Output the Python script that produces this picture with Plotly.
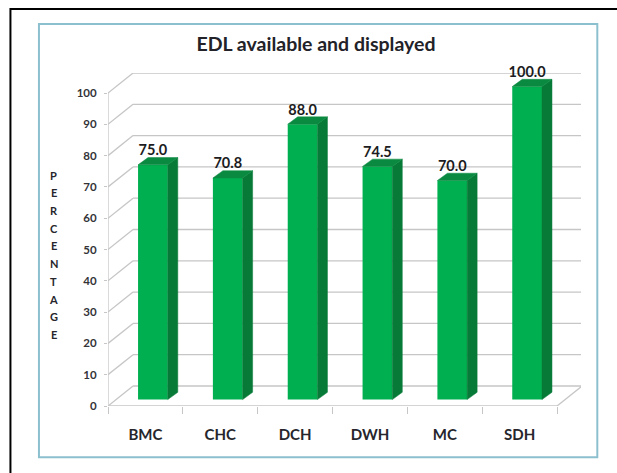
import plotly.graph_objects as go

categories = ["BMC", "CHC", "DCH", "DWH", "MC", "SDH"]
values = [75.0, 70.8, 88.0, 74.5, 70.0, 100.0]
y_ticks = [0, 10, 20, 30, 40, 50, 60, 70, 80, 90, 100]
title_text = "EDL available and displayed"
y_title = "PERCENTAGE"

W, H = 617, 473
L, R, T, B = 108.0, 580.7, 73.0, 405.7
X_UNITS = 6.32
Y_UNITS = 106.4
px_x = (R - L) / X_UNITS
px_y = (B - T) / Y_UNITS

FRONT, SIDE, TOP = "#00B050", "#077A38", "#0A8A40"
GRID = "#c6c6c6"
INK = "#26262c"
FONT = "Lato"

wall_dx, wall_dy = 25 / px_x, 20 / px_y
bar_dx, bar_dy = 10 / px_x, 7.3 / px_y
bar_w = 29.7 / px_x
bar_base = 6.4 / px_y
bar_shift = 0.1

def pap_x(p):
    return (p - L) / (R - L)

def pap_y(p):
    return (B - p) / (B - T)

centers = [i + 0.5 + bar_shift for i in range(len(categories))]

fig = go.Figure()

# front faces
fig.add_trace(go.Bar(x=centers, y=values, base=bar_base, width=bar_w,
                     marker=dict(color=FRONT, line=dict(width=0)), showlegend=False))

# side and top faces
for c, v in zip(centers, values):
    xr = c + bar_w / 2
    xl = c - bar_w / 2
    top = bar_base + v
    fig.add_trace(go.Scatter(
        x=[xr, xr + bar_dx, xr + bar_dx, xr, xr],
        y=[bar_base, bar_base + bar_dy, top + bar_dy, top, bar_base],
        mode="lines", fill="toself", fillcolor=SIDE, line=dict(width=0.5, color=SIDE), showlegend=False))
    fig.add_trace(go.Scatter(
        x=[xl, xr, xr + bar_dx, xl + bar_dx, xl],
        y=[top, top, top + bar_dy, top + bar_dy, top],
        mode="lines", fill="toself", fillcolor=TOP, line=dict(width=0.5, color=TOP), showlegend=False))

# value labels
fig.add_trace(go.Scatter(
    x=centers, y=[bar_base + v + 13.2 / px_y for v in values],
    text=[f"{v:.1f}" for v in values], mode="text", textposition="middle center",
    textfont=dict(family=FONT, size=14.5, color="#1c1c22", weight="bold"),
    cliponaxis=False, showlegend=False))

shapes = []
n = len(categories)
line = dict(color=GRID, width=1.3)
for t in y_ticks:
    shapes.append(dict(type="line", xref="x", yref="y", layer="below", x0=0, y0=t,
                       x1=wall_dx, y1=t + wall_dy, line=line))
    shapes.append(dict(type="line", xref="x", yref="y", layer="below", x0=wall_dx, y0=t + wall_dy,
                       x1=n + wall_dx, y1=t + wall_dy, line=line))
# floor and axes
shapes.append(dict(type="line", xref="x", yref="y", layer="below", x0=0, y0=0, x1=n, y1=0, line=line))
shapes.append(dict(type="line", xref="x", yref="y", layer="below", x0=n, y0=0,
                   x1=n + wall_dx, y1=wall_dy, line=line))
shapes.append(dict(type="line", xref="x", yref="y", layer="below", x0=0, y0=0, x1=0, y1=y_ticks[-1], line=line))

# teal chart border
shapes.append(dict(type="rect", xref="paper", yref="paper", layer="below",
                   x0=pap_x(39), x1=pap_x(597), y0=pap_y(457), y1=pap_y(24),
                   line=dict(color="#8dc0cf", width=2)))
# black page frame, top and left only
shapes.append(dict(type="line", xref="paper", yref="paper", x0=pap_x(10.5), x1=pap_x(617),
                   y0=pap_y(9), y1=pap_y(9), line=dict(color="#000000", width=2)))
shapes.append(dict(type="line", xref="paper", yref="paper", x0=pap_x(10.5), x1=pap_x(10.5),
                   y0=pap_y(8), y1=pap_y(473), line=dict(color="#000000", width=2)))

annotations = [dict(xref="paper", yref="paper", x=pap_x(54), y=pap_y(175 + 17.7 * i),
                    text=ch, showarrow=False, xanchor="center", yanchor="middle",
                    font=dict(family=FONT, size=11, color=INK, weight="bold"))
               for i, ch in enumerate(y_title)]

fig.update_layout(
    width=W, height=H, autosize=False,
    margin=dict(l=L, r=W - R, t=T, b=H - B, pad=0),
    paper_bgcolor="white", plot_bgcolor="rgba(0,0,0,0)",
    shapes=shapes, annotations=annotations, showlegend=False, hovermode=False,
    title=dict(text=title_text, x=316 / W, xanchor="center", y=1 - 44 / H, yanchor="middle",
               font=dict(family=FONT, size=19.5, color="#222228", weight="bold")),
    xaxis=dict(range=[0, X_UNITS], showgrid=False, zeroline=False, showline=False,
               tickmode="array", tickvals=[i + 0.5 for i in range(n)], ticktext=categories,
               ticks="outside", ticklen=15, tickcolor="rgba(0,0,0,0)", tickwidth=1,
               tickfont=dict(family=FONT, size=15, color=INK, weight="bold"),
               minor=dict(tickmode="array", tickvals=list(range(n + 1)), ticks="outside",
                          ticklen=7, tickcolor=GRID, tickwidth=1.2, showgrid=False)),
    yaxis=dict(range=[0, Y_UNITS], showgrid=False, zeroline=False, showline=False,
               tickmode="array", tickvals=y_ticks, ticks="outside", ticklen=3,
               ticklabelstandoff=5, tickcolor=GRID, tickwidth=1.2,
               tickfont=dict(family=FONT, size=11.5, color="#333338", weight="bold")),
)

fig.write_html("out.html", config={"displayModeBar": False},
               post_script="document.body.style.margin='0';document.documentElement.style.overflow='hidden';")
